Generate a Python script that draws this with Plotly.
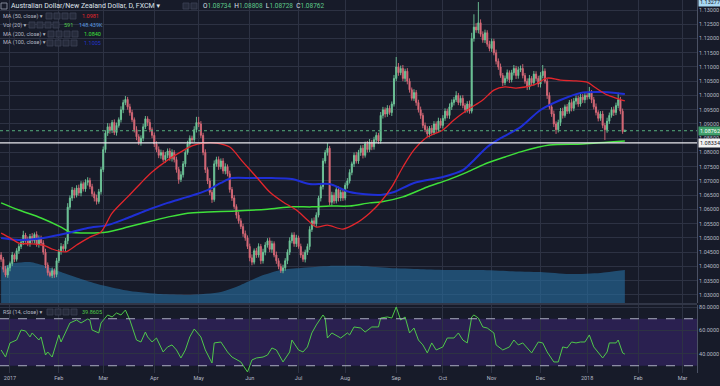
import plotly.graph_objects as go
import pandas as pd

# ---------------- DATA ----------------
# Daily closes, AUD/NZD (FXCM), bars from 2016-12-27 to 2018-01-24 (weekdays)
close = [
    1.0425, 1.0390, 1.0370, 1.0395,
    1.0410, 1.0440, 1.0425, 1.0455, 1.0470,
    1.0485, 1.0510, 1.0495, 1.0480, 1.0505,
    1.0490, 1.0512, 1.0478, 1.0500, 1.0482,
    1.0450, 1.0405, 1.0378, 1.0368, 1.0385,
    1.0372, 1.0420, 1.0452, 1.0470, 1.0462,
    1.0490, 1.0608, 1.0640, 1.0668, 1.0650,
    1.0675, 1.0658, 1.0690, 1.0672, 1.0695,
    1.0702, 1.0680, 1.0655, 1.0640, 1.0628,
    1.0662, 1.0740, 1.0810, 1.0868, 1.0890,
    1.0878, 1.0905, 1.0870, 1.0895, 1.0915,
    1.0950, 1.0975, 1.0986, 1.0960, 1.0940,
    1.0915, 1.0880, 1.0855, 1.0835, 1.0850,
    1.0890, 1.0918, 1.0905, 1.0880, 1.0860,
    1.0830, 1.0810, 1.0790, 1.0800, 1.0775,
    1.0790, 1.0805, 1.0780, 1.0800, 1.0775,
    1.0740, 1.0705, 1.0722, 1.0760, 1.0800,
    1.0830, 1.0850, 1.0845, 1.0880, 1.0905,
    1.0900, 1.0860, 1.0800, 1.0740, 1.0700,
    1.0660, 1.0635, 1.0760, 1.0775, 1.0750,
    1.0770, 1.0735, 1.0750, 1.0725, 1.0670,
    1.0640, 1.0610, 1.0580, 1.0560, 1.0540,
    1.0515, 1.0500, 1.0470, 1.0430, 1.0415,
    1.0455, 1.0440, 1.0470, 1.0420, 1.0450,
    1.0475, 1.0490, 1.0460, 1.0480, 1.0440,
    1.0420, 1.0400, 1.0385, 1.0395, 1.0420,
    1.0450, 1.0490, 1.0510, 1.0480, 1.0500,
    1.0470, 1.0440, 1.0425, 1.0450, 1.0470,
    1.0530, 1.0560, 1.0550, 1.0580, 1.0640,
    1.0680, 1.0770, 1.0800, 1.0815, 1.0625,
    1.0650, 1.0630, 1.0670, 1.0640, 1.0660,
    1.0640, 1.0685, 1.0700, 1.0730, 1.0760,
    1.0790, 1.0770, 1.0800, 1.0815, 1.0790,
    1.0830, 1.0810, 1.0835, 1.0820, 1.0845,
    1.0860, 1.0840, 1.0930, 1.0950, 1.0935,
    1.0955, 1.0940, 1.0970, 1.1060, 1.1100,
    1.1080, 1.1095, 1.1060, 1.1085, 1.1050,
    1.1020, 1.0990, 1.1010, 1.0975, 1.0950,
    1.0930, 1.0895, 1.0880, 1.0865, 1.0885,
    1.0870, 1.0900, 1.0880, 1.0910, 1.0895,
    1.0920, 1.0945, 1.0930, 1.0960, 1.0975,
    1.0985, 1.1000, 1.0975, 1.0990, 1.0965,
    1.0950, 1.0970, 1.0945, 1.1200, 1.1240,
    1.1230, 1.1255, 1.1215, 1.1195, 1.1220,
    1.1180, 1.1165, 1.1190, 1.1150, 1.1120,
    1.1100, 1.1070, 1.1045, 1.1060, 1.1080,
    1.1055, 1.1080, 1.1095, 1.1070, 1.1090,
    1.1095, 1.1070, 1.1050, 1.1030, 1.1060,
    1.1045, 1.1075, 1.1060, 1.1040, 1.1070,
    1.1085, 1.1050, 1.1000, 1.0960, 1.0935,
    1.0900, 1.0880, 1.0905, 1.0945, 1.0930,
    1.0960, 1.0945, 1.0975, 1.0955, 1.0980,
    1.0990, 1.0970, 1.0995, 1.0985, 1.1000,
    1.0995, 1.1010, 1.0985, 1.0960, 1.0940,
    1.0920, 1.0935, 1.0895, 1.0880, 1.0910,
    1.0930, 1.0950, 1.0940, 1.0965, 1.0985,
    1.0945, 1.08734, 1.08762,
]
first_open = 1.0440

# wick lengths above / below the candle body, in pips
upper_wick_pips = [
    10, 8, 12, 9, 7, 11, 6, 9, 10, 12,
    15, 8, 10, 9, 12, 7, 11, 9, 8, 10,
    12, 9, 7, 11, 8, 10, 9, 12, 8, 10,
    14, 9, 11, 8, 10, 12, 9, 8, 11, 11,
    9, 10, 8, 12, 10, 9, 11, 10, 13, 12,
    9, 11, 10, 8, 12, 10, 12, 9, 11, 10,
    8, 12, 9, 10, 11, 10, 9, 12, 8, 10,
    9, 11, 10, 8, 12, 9, 10, 11, 8, 10,
    9, 12, 10, 8, 11, 10, 9, 12, 20, 20,
    10, 9, 11, 8, 10, 9, 12, 10, 11, 9,
    10, 12, 8, 11, 9, 10, 8, 12, 9, 10,
    11, 9, 10, 12, 8, 10, 11, 9, 12, 10,
    9, 11, 10, 8, 12, 9, 10, 11, 9, 10,
    12, 9, 10, 11, 8, 10, 12, 9, 10, 11,
    9, 12, 10, 8, 11, 10, 9, 18, 8, 12,
    10, 9, 11, 10, 12, 9, 10, 11, 8, 10,
    12, 9, 10, 11, 8, 10, 12, 9, 10, 11,
    9, 12, 10, 8, 11, 10, 9, 12, 35, 14,
    10, 12, 9, 11, 10, 8, 12, 9, 10, 11,
    9, 10, 12, 8, 11, 10, 9, 12, 10, 11,
    10, 9, 12, 11, 10, 15, 9, 10, 11, 8,
    10, 12, 20, 45, 14, 73, 12, 10, 11, 9,
    12, 10, 9, 11, 10, 12, 9, 10, 11, 8,
    10, 12, 9, 11, 10, 15, 9, 10, 12, 8,
    11, 10, 9, 12, 22, 10, 9, 11, 10, 12,
    9, 10, 11, 12, 8, 10, 9, 12, 11, 10,
    9, 12, 10, 11, 10, 20, 9, 10, 12, 8,
    10, 11, 9, 12, 10, 9, 11, 10, 25, 10,
    9, 4.6,
]
lower_wick_pips = [
    9, 11, 8, 10, 12, 9, 10, 8, 11, 9,
    10, 12, 9, 11, 8, 10, 9, 12, 10, 9,
    11, 10, 6, 9, 12, 10, 8, 11, 9, 10,
    12, 9, 10, 11, 8, 10, 12, 9, 10, 11,
    9, 10, 12, 11, 8, 10, 9, 11, 10, 12,
    10, 9, 11, 8, 10, 12, 9, 10, 11, 9,
    10, 12, 9, 11, 10, 8, 12, 9, 10, 11,
    9, 10, 12, 8, 11, 10, 9, 12, 10, 11,
    15, 9, 10, 11, 8, 10, 12, 9, 10, 11,
    9, 10, 12, 11, 10, 12, 8, 10, 11, 9,
    10, 12, 9, 11, 10, 8, 12, 10, 9, 11,
    10, 9, 12, 11, 8, 10, 9, 12, 10, 11,
    9, 10, 12, 8, 11, 10, 8, 9, 10, 12,
    10, 9, 11, 12, 8, 10, 9, 11, 10, 12,
    9, 10, 11, 8, 12, 10, 9, 11, 10, 12,
    10, 9, 12, 11, 10, 8, 12, 9, 10, 11,
    9, 10, 12, 11, 8, 10, 9, 12, 10, 11,
    10, 9, 11, 12, 10, 8, 12, 9, 10, 11,
    9, 10, 12, 11, 10, 8, 9, 11, 10, 12,
    10, 9, 11, 12, 10, 8, 12, 9, 10, 11,
    9, 10, 12, 11, 10, 8, 9, 11, 10, 12,
    10, 9, 8, 11, 10, 12, 9, 10, 11, 9,
    10, 12, 9, 11, 10, 8, 12, 9, 10, 11,
    9, 10, 12, 11, 8, 10, 9, 11, 10, 12,
    10, 9, 11, 12, 10, 8, 12, 9, 10, 11,
    15, 10, 12, 11, 8, 10, 9, 11, 10, 12,
    10, 9, 11, 12, 10, 8, 12, 9, 10, 11,
    9, 10, 36, 11, 10, 8, 12, 9, 10, 11,
    8, 0.6,
]

# Moving averages (bar index, value)
ma50_idx = [-4, 0, 4, 10, 15, 19, 25, 30, 36, 41, 46, 53, 59, 64, 71, 77, 82, 87, 93, 99,
            105, 111, 117, 123, 129, 134, 138, 143, 150, 156, 162, 167, 172, 177, 182, 188,
            195, 200, 206, 213, 218, 223, 228, 236, 242, 248, 255, 260, 264, 269, 273, 277]
ma50_val = [1.0517, 1.0500, 1.0482, 1.0479, 1.0475, 1.0461, 1.0451, 1.0475, 1.0503, 1.0521,
            1.0587, 1.0644, 1.0693, 1.0731, 1.0773, 1.0802, 1.0823, 1.0833, 1.0833, 1.0819,
            1.0766, 1.0714, 1.0661, 1.0626, 1.0598, 1.0563, 1.0538, 1.0545, 1.0531, 1.0552,
            1.0587, 1.0626, 1.0679, 1.0749, 1.0809, 1.0854, 1.0879, 1.0914, 1.0949, 1.0984,
            1.1019, 1.1030, 1.1026, 1.1037, 1.1061, 1.1054, 1.1051, 1.1047, 1.1026, 1.1002,
            1.0991, 1.0981]

ma100_idx = [-4, 4, 15, 26, 35, 44, 53, 62, 71, 80, 89, 95, 100, 109, 118, 127, 135, 144,
             153, 167, 173, 182, 195, 204, 209, 215, 221, 230, 239, 248, 257, 266, 273, 277]
ma100_val = [1.0500, 1.0493, 1.0500, 1.0517, 1.0535, 1.0545, 1.0570, 1.0598, 1.0623, 1.0644,
             1.0668, 1.0693, 1.0710, 1.0710, 1.0710, 1.0707, 1.0689, 1.0689, 1.0661, 1.0651,
             1.0661, 1.0693, 1.0714, 1.0738, 1.0773, 1.0819, 1.0850, 1.0889, 1.0949, 1.0984,
             1.1009, 1.1012, 1.1009, 1.1005]

ma200_idx = [-4, 4, 14, 23, 27, 35, 44, 53, 62, 71, 80, 89, 100, 116, 127, 136, 144, 153,
             162, 167, 177, 188, 197, 206, 215, 223, 230, 243, 258, 277]
ma200_val = [1.0623, 1.0598, 1.0570, 1.0538, 1.0521, 1.0517, 1.0521, 1.0538, 1.0556, 1.0573,
             1.0587, 1.0591, 1.0594, 1.0601, 1.0609, 1.0609, 1.0612, 1.0612, 1.0623, 1.0626,
             1.0644, 1.0679, 1.0703, 1.0731, 1.0763, 1.0784, 1.0802, 1.0826, 1.0830, 1.0840]

# Volume (20) average, thousands
vol_idx = [-4, 2, 9, 16, 23, 32, 41, 54, 68, 81, 95, 104, 113, 122, 131, 144, 158, 171,
           185, 198, 212, 225, 239, 252, 266, 277]
vol_k = [161, 179, 184, 166, 139, 108, 81, 54, 40, 36, 49, 81, 121, 148, 157, 166, 166, 157,
         152, 148, 148, 143, 139, 130, 135, 148]

# RSI (14, close)
rsi_idx = [-4, -2, 0, 3, 5, 7, 9, 10, 13, 14, 16, 17, 19, 22, 23, 27, 30, 32, 35, 36, 37,
           40, 41, 44, 46, 48, 50, 52, 54, 57, 59, 61, 62, 64, 66, 69, 71, 73, 75, 77, 79,
           81, 83, 86, 88, 91, 92, 95, 98, 100, 104, 107, 109, 111, 114, 116, 118, 120, 123,
           126, 127, 130, 132, 134, 136, 138, 141, 142, 143, 145, 149, 152, 153, 155, 158,
           160, 163, 166, 167, 170, 172, 174, 176, 178, 180, 182, 184, 186, 188, 190, 192,
           195, 197, 200, 202, 204, 206, 208, 209, 211, 213, 215, 218, 219, 222, 225, 227,
           229, 231, 235, 238, 240, 242, 245, 247, 249, 251, 253, 255, 257, 259, 261, 263,
           265, 267, 269, 270, 273, 274, 276, 277]
rsi_val = [43.4, 37.4, 49.4, 51.9, 60.4, 59.6, 54.5, 57.9, 51.9, 54.5, 39.1, 41.7, 37.4,
           56.2, 50.2, 66.4, 68.9, 66.4, 69.8, 68.9, 60.4, 57.9, 66.4, 73.2, 71.5, 74.9,
           73.2, 77.4, 68.9, 51.9, 50.2, 58.7, 54.5, 50.2, 53.6, 41.7, 46.0, 47.7, 43.4,
           36.6, 43.4, 54.5, 61.3, 54.5, 43.4, 32.3, 49.4, 50.2, 41.7, 37.4, 33.2, 24.7,
           34.9, 36.6, 37.4, 39.1, 45.1, 43.4, 33.2, 41.7, 51.9, 43.4, 41.7, 46.0, 57.9,
           64.7, 73.2, 70.6, 53.6, 57.9, 53.6, 57.9, 56.2, 63.0, 62.1, 58.7, 63.0, 63.0,
           70.6, 71.5, 70.6, 80.0, 68.9, 71.5, 57.9, 62.1, 51.9, 47.7, 40.9, 49.4, 43.4,
           46.0, 53.6, 53.6, 57.9, 51.9, 49.4, 71.5, 73.2, 70.6, 63.0, 62.1, 57.9, 47.7,
           43.4, 46.0, 51.9, 47.7, 49.4, 40.9, 50.2, 49.4, 41.7, 33.2, 33.2, 46.0, 45.1,
           50.2, 49.4, 50.2, 50.2, 56.2, 46.0, 41.7, 36.6, 41.7, 49.4, 49.4, 51.9, 40.9,
           39.86]

price_ticks = [1.030, 1.035, 1.040, 1.045, 1.050, 1.055, 1.060, 1.065, 1.070, 1.075,
               1.080, 1.085, 1.090, 1.095, 1.100, 1.105, 1.110, 1.115, 1.120, 1.125, 1.130]
month_idx = [0, 22, 42, 65, 85, 108, 130, 151, 174, 195, 217, 239, 260, 283, 303]
month_lbl = ["2017", "Feb", "Mar", "Apr", "May", "Jun", "Jul", "Aug", "Sep", "Oct", "Nov",
             "Dec", "2018", "Feb", "Mar"]
rsi_ticks = [40, 60, 80]

last_price = 1.08762
hline_price = 1.08334
max_high = 1.13277

# ---------------- BUILD ----------------
n = min(len(close), len(upper_wick_pips), len(lower_wick_pips))
close = close[:n]
bar_idx = list(range(-4, -4 + n))
dates = pd.bdate_range("2016-12-27", periods=n)
opens = [first_open] + close[:n - 1]
highs = [max(o, c) + u * 1e-4 for o, c, u in zip(opens, close, upper_wick_pips)]
lows = [min(o, c) - d * 1e-4 for o, c, d in zip(opens, close, lower_wick_pips)]

W, H = 720, 386
PW, PH = 697, 373  # plot area in px (margins r=23, b=13)


def fx(px):
    return px / PW


def fy(py):
    return 1 - py / PH


BG = "#171b29"
GRID = "#2d3243"
AXL = "#4b5164"
TXT = "#b4b8c4"
FONT = "Roboto, Liberation Sans, DejaVu Sans"

XR = [-4.5, 309.5]

fig = go.Figure()

fig.add_trace(go.Scatter(
    x=vol_idx, y=vol_k, xaxis="x", yaxis="y", mode="lines", fill="tozeroy",
    line=dict(width=0, color="rgba(40,112,165,0.0)", shape="spline", smoothing=0.6),
    fillcolor="rgba(38,108,158,0.62)", hoverinfo="skip", showlegend=False))

fig.add_trace(go.Candlestick(
    x=bar_idx, open=opens, high=highs, low=lows, close=close,
    xaxis="x", yaxis="y3", text=[d.strftime("%Y-%m-%d") for d in dates],
    increasing=dict(line=dict(color="#6fc79a", width=0.9), fillcolor="#6fc79a"),
    decreasing=dict(line=dict(color="#d96a78", width=0.9), fillcolor="#d96a78"),
    whiskerwidth=0, showlegend=False))

fig.add_trace(go.Scatter(x=ma200_idx, y=ma200_val, xaxis="x", yaxis="y3", mode="lines",
                         line=dict(color="#3fe03a", width=1.5, shape="spline", smoothing=0.8),
                         showlegend=False, name="MA 200"))
fig.add_trace(go.Scatter(x=ma100_idx, y=ma100_val, xaxis="x", yaxis="y3", mode="lines",
                         line=dict(color="#1f2fd6", width=2, shape="spline", smoothing=0.8),
                         showlegend=False, name="MA 100"))
fig.add_trace(go.Scatter(x=ma50_idx, y=ma50_val, xaxis="x", yaxis="y3", mode="lines",
                         line=dict(color="#e3262c", width=1.3, shape="spline", smoothing=0.8),
                         showlegend=False, name="MA 50"))

fig.add_trace(go.Scatter(x=rsi_idx, y=rsi_val, xaxis="x2", yaxis="y2", mode="lines",
                         line=dict(color="#4fc84a", width=1), showlegend=False, name="RSI"))

fig.update_layout(
    width=W, height=H,
    margin=dict(l=0, r=W - PW, t=0, b=H - PH),
    paper_bgcolor=BG, plot_bgcolor=BG,
    font=dict(family=FONT, color=TXT, size=6),
    showlegend=False,
    xaxis=dict(domain=[0, 1], anchor="y", range=XR, tickvals=month_idx, showticklabels=False,
               showgrid=True, gridcolor=GRID, gridwidth=1, zeroline=False, ticks="",
               rangeslider=dict(visible=False), fixedrange=True),
    yaxis=dict(domain=[70 / PH, 1], anchor="x", range=[0, 1360], visible=False,
               showgrid=False, zeroline=False),
    yaxis3=dict(overlaying="y", anchor="x", side="right", range=[1.02716, 1.13351],
                tickvals=price_ticks, ticktext=["%.5f" % p for p in price_ticks],
                tickfont=dict(size=5.5, color=TXT, family=FONT), showgrid=True,
                gridcolor=GRID, zeroline=False, showline=True, linecolor=AXL, linewidth=1,
                ticks=""),
    xaxis2=dict(domain=[0, 1], anchor="y2", range=XR, tickvals=month_idx, ticktext=month_lbl,
                tickfont=dict(size=5.5, color=TXT, family=FONT), showgrid=True,
                gridcolor=GRID, zeroline=False, ticks="", showline=False),
    yaxis2=dict(domain=[0, 68 / PH], anchor="x2", side="right", range=[23.8, 81.7],
                tickvals=rsi_ticks, ticktext=["%.4f" % v for v in rsi_ticks],
                tickfont=dict(size=5.5, color=TXT, family=FONT), showgrid=True,
                gridcolor=GRID, zeroline=False, showline=True, linecolor=AXL, ticks=""),
)

shapes = [
    # RSI band 30-70
    dict(type="rect", xref="paper", yref="y2", x0=0, x1=1, y0=30, y1=70,
         fillcolor="#2a2050", line=dict(width=0), layer="below"),
    dict(type="line", xref="paper", yref="y2", x0=0, x1=1, y0=70, y1=70,
         line=dict(color="#a9acc0", width=1, dash="dash")),
    dict(type="line", xref="paper", yref="y2", x0=0, x1=1, y0=30, y1=30,
         line=dict(color="#a9acc0", width=1, dash="dash")),
    # pane separator
    dict(type="line", xref="paper", yref="paper", x0=0, x1=1, y0=fy(304), y1=fy(304),
         line=dict(color="#4d5366", width=1)),
    # last price / horizontal level
    dict(type="line", xref="paper", yref="y3", x0=0, x1=1, y0=last_price, y1=last_price,
         line=dict(color="#55b07d", width=1, dash="dot")),
    dict(type="line", xref="paper", yref="y3", x0=0, x1=1, y0=hline_price, y1=hline_price,
         line=dict(color="#e9e9ee", width=1.3)),
]


# small legend control boxes
def boxes(x0, y_c, count):
    out = []
    for k in range(count):
        xa = x0 + k * 8
        out.append(dict(type="rect", xref="paper", yref="paper",
                        x0=fx(xa), x1=fx(xa + 6), y0=fy(y_c + 3), y1=fy(y_c - 3),
                        fillcolor="#262b3b", line=dict(color="#3c4256", width=0.8)))
    return out


shapes += boxes(183, 6, 2)
shapes += boxes(46, 16, 4)
shapes += boxes(29, 25, 4)
shapes += boxes(48, 34, 4)
shapes += boxes(47, 43, 4)
shapes += boxes(47, 312, 4)
shapes.append(dict(type="rect", xref="paper", yref="paper", x0=fx(1), x1=fx(7),
                   y0=fy(9), y1=fy(3), line=dict(color="#9aa0b0", width=0.8)))
fig.update_layout(shapes=shapes)

ann = []


def txt(x, y, s, color=TXT, size=5.5):
    ann.append(dict(xref="paper", yref="paper", x=fx(x), y=fy(y), text=s, showarrow=False,
                    xanchor="left", yanchor="middle",
                    font=dict(color=color, size=size, family=FONT)))


G = "#5fc98a"
txt(9, 6, "Australian Dollar/New Zealand Dollar, D, FXCM ▾", "#dfe2ea", 7)
txt(201, 6, "O<span style='color:%s'>1.08734</span>  H<span style='color:%s'>1.08808</span>  "
            "L<span style='color:%s'>1.08728</span>  C<span style='color:%s'>1.08762</span>"
    % (G, G, G, G), "#dfe2ea", 6.5)
txt(1, 16, "MA (50, close) ▾")
txt(80, 16, "1.0981", "#e3262c")
txt(1, 25, "Vol (20) ▾")
txt(62, 25, "591", "#4fc84a")
txt(77, 25, "148.439K", "#5b9be0")
txt(1, 34, "MA (200, close) ▾")
txt(82, 34, "1.0840", "#3fe03a")
txt(1, 43, "MA (100, close) ▾")
txt(82, 43, "1.1005", "#2233cc")
txt(1, 312, "RSI (14, close) ▾")
txt(80, 312, "39.8605", "#4fc84a")

# price labels on the right axis
for val, bg, fg in [(max_high, "#a9d9f3", "#10131c"), (last_price, "#3f9f6a", "#ffffff"),
                    (hline_price, "#f2f2f2", "#10131c")]:
    ann.append(dict(xref="paper", yref="y3", x=1.0, y=val, text="%.5f" % val,
                    showarrow=False, xanchor="left", yanchor="middle", bgcolor=bg,
                    borderpad=1, xshift=1, font=dict(color=fg, size=5.5, family=FONT)))

fig.update_layout(annotations=ann)

fig.write_html("out.html", config={"displayModeBar": False, "staticPlot": False})

# remove the default page margin so the 720x386 figure sits at the window origin
with open("out.html", "r", encoding="utf-8") as f:
    page = f.read()
page = page.replace("<head>", "<head><style>html,body{margin:0;padding:0;overflow:hidden;"
                    "background:%s}</style>" % BG, 1)
with open("out.html", "w", encoding="utf-8") as f:
    f.write(page)
